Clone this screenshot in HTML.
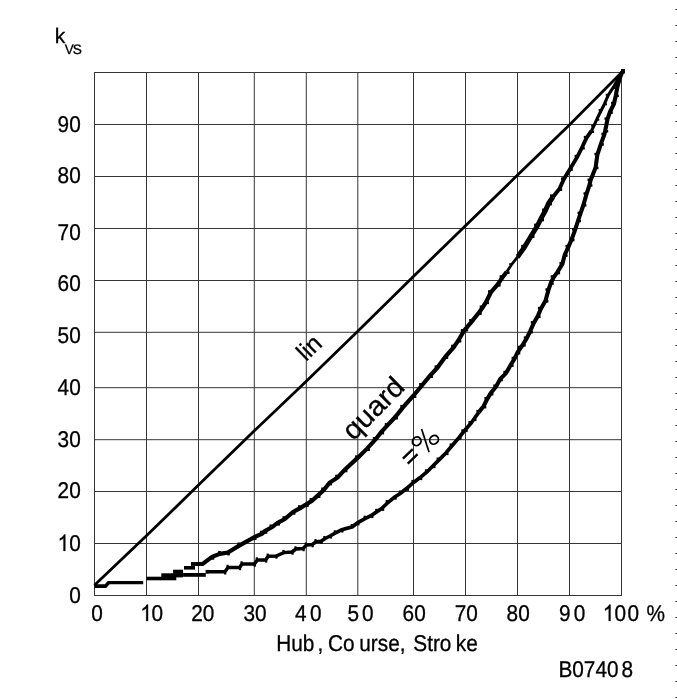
<!DOCTYPE html>
<html><head><meta charset="utf-8"><title>kvs</title>
<style>
html,body{margin:0;padding:0;background:#fff;}
body{width:677px;height:699px;overflow:hidden;position:relative;}
svg{position:absolute;left:0;top:0;display:block;filter:grayscale(1);}
text{text-rendering:geometricPrecision;font-family:"Liberation Sans",sans-serif;font-size:22.8px;fill:#000;stroke:#000;stroke-width:0.3px;}
.g line{stroke:#363636;stroke-width:1;}
.c{fill:none;stroke:#000;stroke-linejoin:miter;stroke-linecap:butt;}
</style></head><body>
<svg width="677" height="699" viewBox="0 0 677 699">
<rect width="677" height="699" fill="#fff"/>
<g class="g"><line x1="94.5" y1="72" x2="94.5" y2="596"/><line x1="146.5" y1="72" x2="146.5" y2="596"/><line x1="198.5" y1="72" x2="198.5" y2="596"/><line x1="254.3" y1="72" x2="254.3" y2="596"/><line x1="306.3" y1="72" x2="306.3" y2="596"/><line x1="357.8" y1="72" x2="357.8" y2="596"/><line x1="413.5" y1="72" x2="413.5" y2="596"/><line x1="465.5" y1="72" x2="465.5" y2="596"/><line x1="517.5" y1="72" x2="517.5" y2="596"/><line x1="569.5" y1="72" x2="569.5" y2="596"/><line x1="621.5" y1="72" x2="621.5" y2="596"/><line x1="94" y1="595.5" x2="622" y2="595.5"/><line x1="94" y1="543.5" x2="622" y2="543.5"/><line x1="94" y1="491.5" x2="622" y2="491.5"/><line x1="94" y1="439.7" x2="622" y2="439.7"/><line x1="94" y1="387.7" x2="622" y2="387.7"/><line x1="94" y1="332.3" x2="622" y2="332.3"/><line x1="94" y1="280.5" x2="622" y2="280.5"/><line x1="94" y1="228.5" x2="622" y2="228.5"/><line x1="94" y1="176.5" x2="622" y2="176.5"/><line x1="94" y1="124.5" x2="622" y2="124.5"/><line x1="94" y1="72.5" x2="622" y2="72.5"/></g>
<g fill="#333"><rect x="675.4" y="9" width="1.6" height="1"/><rect x="675.4" y="25" width="1.6" height="1"/><rect x="675.4" y="41" width="1.6" height="1"/><rect x="675.4" y="57" width="1.6" height="1"/><rect x="675.4" y="73" width="1.6" height="1"/><rect x="675.4" y="89" width="1.6" height="1"/><rect x="675.4" y="105" width="1.6" height="1"/><rect x="675.4" y="121" width="1.6" height="1"/><rect x="675.4" y="137" width="1.6" height="1"/><rect x="675.4" y="153" width="1.6" height="1"/><rect x="675.4" y="169" width="1.6" height="1"/><rect x="675.4" y="185" width="1.6" height="1"/><rect x="675.4" y="201" width="1.6" height="1"/><rect x="675.4" y="217" width="1.6" height="1"/><rect x="675.4" y="233" width="1.6" height="1"/><rect x="675.4" y="249" width="1.6" height="1"/><rect x="675.4" y="265" width="1.6" height="1"/><rect x="675.4" y="281" width="1.6" height="1"/><rect x="675.4" y="297" width="1.6" height="1"/><rect x="675.4" y="313" width="1.6" height="1"/><rect x="675.4" y="329" width="1.6" height="1"/><rect x="675.4" y="345" width="1.6" height="1"/><rect x="675.4" y="361" width="1.6" height="1"/><rect x="675.4" y="377" width="1.6" height="1"/><rect x="675.4" y="393" width="1.6" height="1"/><rect x="675.4" y="409" width="1.6" height="1"/><rect x="675.4" y="425" width="1.6" height="1"/><rect x="675.4" y="441" width="1.6" height="1"/><rect x="675.4" y="457" width="1.6" height="1"/><rect x="675.4" y="473" width="1.6" height="1"/><rect x="675.4" y="489" width="1.6" height="1"/><rect x="675.4" y="505" width="1.6" height="1"/><rect x="675.4" y="521" width="1.6" height="1"/><rect x="675.4" y="537" width="1.6" height="1"/><rect x="675.4" y="553" width="1.6" height="1"/><rect x="675.4" y="569" width="1.6" height="1"/><rect x="675.4" y="585" width="1.6" height="1"/><rect x="675.4" y="601" width="1.6" height="1"/><rect x="675.4" y="617" width="1.6" height="1"/><rect x="675.4" y="633" width="1.6" height="1"/><rect x="675.4" y="649" width="1.6" height="1"/><rect x="675.4" y="665" width="1.6" height="1"/><rect x="675.4" y="681" width="1.6" height="1"/><rect x="675.4" y="697" width="1.6" height="1"/></g>
<polyline class="c" stroke-width="2.8" points="94.4,585.2 146.7,535.6 198.5,485.1 254.6,430.5 306.3,381.2 358.0,331.0 413.4,276.4 465.7,225.5 518.1,174.6 569.6,124.8 622.8,71.2"/>
<g fill="#000"><rect x="146.5" y="576.7" width="29.8" height="3.6"/><rect x="161.3" y="573.3" width="21.8" height="4.1"/><rect x="173.1" y="569.7" width="10.0" height="4.2"/><rect x="183.1" y="573.0" width="22.7" height="3.8"/><rect x="205.6" y="569.9" width="3.4" height="3.5"/><rect x="184.0" y="566.0" width="11.0" height="3.6"/><rect x="191.0" y="562.1" width="7.0" height="3.8"/><polygon points="94.4,584.3 104.8,584.3 107.8,581.0 143.2,581.0 143.2,584.2 109.6,584.2 106.2,587.9 94.4,587.9"/><rect x="211.7" y="557.1" width="2.6" height="2.6"/><rect x="218.2" y="550.9" width="2.6" height="2.6"/><rect x="227.2" y="552.8" width="2.6" height="2.6"/><rect x="237.4" y="542.5" width="2.6" height="2.6"/><rect x="253.9" y="537.4" width="2.6" height="2.6"/><rect x="259.9" y="530.7" width="2.6" height="2.6"/><rect x="264.7" y="531.2" width="2.6" height="2.6"/><rect x="269.5" y="524.5" width="2.6" height="2.6"/><rect x="277.4" y="523.0" width="2.6" height="2.6"/><rect x="282.5" y="516.2" width="2.6" height="2.6"/><rect x="292.8" y="512.1" width="2.6" height="2.6"/><rect x="298.0" y="505.2" width="2.6" height="2.6"/><rect x="306.1" y="504.4" width="2.6" height="2.6"/><rect x="309.6" y="498.0" width="2.6" height="2.6"/><rect x="317.8" y="495.4" width="2.6" height="2.6"/><rect x="321.2" y="487.5" width="2.6" height="2.6"/><rect x="329.4" y="482.8" width="2.6" height="2.6"/><rect x="335.2" y="474.7" width="2.6" height="2.6"/><rect x="344.8" y="469.7" width="2.6" height="2.6"/><rect x="355.1" y="455.3" width="2.6" height="2.6"/><rect x="367.3" y="448.4" width="2.6" height="2.6"/><rect x="372.8" y="437.0" width="2.6" height="2.6"/><rect x="381.5" y="431.8" width="2.6" height="2.6"/><rect x="384.8" y="422.9" width="2.6" height="2.6"/><rect x="395.3" y="416.9" width="2.6" height="2.6"/><rect x="400.3" y="404.9" width="2.6" height="2.6"/><rect x="413.7" y="395.4" width="2.6" height="2.6"/><rect x="419.2" y="383.0" width="2.6" height="2.6"/><rect x="430.3" y="375.4" width="2.6" height="2.6"/><rect x="434.6" y="365.4" width="2.6" height="2.6"/><rect x="445.6" y="356.3" width="2.6" height="2.6"/><rect x="451.1" y="344.7" width="2.6" height="2.6"/><rect x="458.7" y="339.9" width="2.6" height="2.6"/><rect x="460.8" y="329.1" width="2.6" height="2.6"/><rect x="465.5" y="328.9" width="2.6" height="2.6"/><rect x="469.2" y="319.0" width="2.6" height="2.6"/><rect x="479.1" y="312.3" width="2.6" height="2.6"/><rect x="479.7" y="305.5" width="2.6" height="2.6"/><rect x="486.4" y="301.5" width="2.6" height="2.6"/><rect x="488.0" y="290.2" width="2.6" height="2.6"/><rect x="498.0" y="284.0" width="2.6" height="2.6"/><rect x="499.6" y="275.2" width="2.6" height="2.6"/><rect x="507.0" y="271.4" width="2.6" height="2.6"/><rect x="509.2" y="263.2" width="1.7" height="1.7"/><rect x="518.2" y="256.7" width="1.7" height="1.7"/><rect x="521.2" y="244.8" width="2.8" height="2.8"/><rect x="531.7" y="235.2" width="2.8" height="2.8"/><rect x="534.1" y="223.6" width="2.8" height="2.8"/><rect x="541.2" y="218.5" width="2.8" height="2.8"/><rect x="542.1" y="208.5" width="2.8" height="2.8"/><rect x="549.1" y="202.6" width="2.8" height="2.8"/><rect x="550.0" y="194.4" width="2.8" height="2.8"/><rect x="559.8" y="188.5" width="2.4" height="2.4"/><rect x="561.0" y="177.4" width="2.4" height="2.4"/><rect x="570.5" y="168.4" width="2.4" height="2.4"/><rect x="574.6" y="154.8" width="2.4" height="2.4"/><rect x="582.4" y="147.1" width="2.4" height="2.4"/><rect x="583.8" y="135.9" width="2.4" height="2.4"/><rect x="591.7" y="130.6" width="2.4" height="2.4"/><rect x="591.2" y="124.9" width="1.9" height="1.9"/><rect x="597.4" y="118.8" width="1.9" height="1.9"/><rect x="598.6" y="109.1" width="1.9" height="1.9"/><rect x="605.1" y="103.4" width="1.9" height="1.9"/><rect x="605.7" y="93.8" width="1.9" height="1.9"/><rect x="613.8" y="87.1" width="1.9" height="1.9"/><rect x="224.1" y="572.3" width="2.2" height="2.2"/><rect x="226.5" y="564.8" width="2.2" height="2.2"/><rect x="238.9" y="568.0" width="2.2" height="2.2"/><rect x="240.5" y="561.3" width="2.2" height="2.2"/><rect x="253.7" y="564.5" width="2.2" height="2.2"/><rect x="255.7" y="557.3" width="2.2" height="2.2"/><rect x="265.1" y="560.4" width="2.2" height="2.2"/><rect x="266.6" y="553.6" width="2.2" height="2.2"/><rect x="275.3" y="556.5" width="2.2" height="2.2"/><rect x="282.4" y="549.9" width="2.2" height="2.2"/><rect x="291.4" y="552.5" width="2.2" height="2.2"/><rect x="294.4" y="546.3" width="2.2" height="2.2"/><rect x="302.5" y="549.0" width="2.2" height="2.2"/><rect x="304.7" y="542.5" width="2.2" height="2.2"/><rect x="311.5" y="545.1" width="2.2" height="2.2"/><rect x="314.4" y="539.1" width="2.2" height="2.2"/><rect x="320.5" y="541.8" width="2.2" height="2.2"/><rect x="323.3" y="536.0" width="2.2" height="2.2"/><rect x="329.7" y="536.4" width="2.2" height="2.2"/><rect x="333.7" y="530.3" width="2.2" height="2.2"/><rect x="341.2" y="530.2" width="2.3" height="2.3"/><rect x="350.7" y="524.0" width="2.3" height="2.3"/><rect x="357.2" y="523.1" width="2.3" height="2.3"/><rect x="363.6" y="515.7" width="2.3" height="2.3"/><rect x="371.1" y="515.8" width="2.3" height="2.3"/><rect x="375.2" y="508.8" width="2.3" height="2.3"/><rect x="381.9" y="508.6" width="2.3" height="2.3"/><rect x="385.6" y="500.1" width="2.3" height="2.3"/><rect x="394.3" y="497.4" width="2.3" height="2.3"/><rect x="398.8" y="490.5" width="2.3" height="2.3"/><rect x="406.7" y="488.5" width="2.3" height="2.3"/><rect x="411.4" y="479.9" width="2.3" height="2.3"/><rect x="420.0" y="477.8" width="2.3" height="2.3"/><rect x="424.9" y="469.3" width="2.3" height="2.3"/><rect x="433.2" y="465.9" width="2.3" height="2.3"/><rect x="436.6" y="457.5" width="2.3" height="2.3"/><rect x="446.2" y="452.8" width="2.3" height="2.3"/><rect x="449.6" y="443.5" width="2.3" height="2.3"/><rect x="459.3" y="437.4" width="2.3" height="2.3"/><rect x="461.3" y="429.3" width="2.3" height="2.3"/><rect x="465.4" y="429.8" width="2.3" height="2.3"/><rect x="468.4" y="421.1" width="2.3" height="2.3"/><rect x="474.2" y="418.8" width="2.3" height="2.3"/><rect x="476.4" y="409.9" width="2.3" height="2.3"/><rect x="483.8" y="405.9" width="2.5" height="2.5"/><rect x="484.4" y="397.0" width="2.5" height="2.5"/><rect x="490.9" y="393.0" width="2.5" height="2.5"/><rect x="493.3" y="384.4" width="2.5" height="2.5"/><rect x="500.4" y="378.8" width="2.5" height="2.5"/><rect x="503.4" y="370.8" width="2.5" height="2.5"/><rect x="511.1" y="364.4" width="2.5" height="2.5"/><rect x="511.6" y="356.8" width="2.5" height="2.5"/><rect x="517.8" y="352.0" width="2.5" height="2.5"/><rect x="517.8" y="345.7" width="2.5" height="2.5"/><rect x="523.2" y="344.1" width="2.5" height="2.5"/><rect x="523.8" y="336.4" width="2.5" height="2.5"/><rect x="530.4" y="330.9" width="2.5" height="2.5"/><rect x="530.8" y="321.1" width="2.5" height="2.5"/><rect x="538.1" y="315.6" width="2.5" height="2.5"/><rect x="537.9" y="306.9" width="2.5" height="2.5"/><rect x="545.9" y="300.1" width="2.5" height="2.5"/><rect x="545.4" y="288.3" width="2.5" height="2.5"/><rect x="551.2" y="282.4" width="2.5" height="2.5"/><rect x="550.7" y="275.3" width="2.5" height="2.5"/><rect x="557.6" y="271.8" width="2.5" height="2.5"/><rect x="559.5" y="261.9" width="2.5" height="2.5"/><rect x="565.1" y="254.3" width="2.5" height="2.5"/><rect x="565.5" y="244.8" width="2.5" height="2.5"/><rect x="572.0" y="238.8" width="2.5" height="2.5"/><rect x="572.1" y="228.1" width="2.5" height="2.5"/><rect x="578.5" y="219.8" width="2.5" height="2.5"/><rect x="577.5" y="211.6" width="2.5" height="2.5"/><rect x="583.9" y="204.1" width="2.5" height="2.5"/><rect x="583.5" y="192.2" width="2.5" height="2.5"/><rect x="589.9" y="184.2" width="2.5" height="2.5"/><rect x="587.5" y="178.6" width="2.5" height="2.5"/><rect x="596.0" y="166.7" width="2.5" height="2.5"/><rect x="594.4" y="152.8" width="2.5" height="2.5"/><rect x="601.3" y="143.2" width="2.5" height="2.5"/><rect x="601.4" y="132.7" width="2.5" height="2.5"/><rect x="605.7" y="130.0" width="2.5" height="2.5"/><rect x="604.5" y="117.4" width="2.5" height="2.5"/><rect x="610.3" y="111.4" width="2.5" height="2.5"/><rect x="611.1" y="101.8" width="2.5" height="2.5"/><rect x="616.3" y="94.6" width="2.5" height="2.5"/><rect x="614.6" y="84.3" width="2.5" height="2.5"/></g>
<polyline class="c" stroke-width="4.2" points="196.0,564.0 202.6,563.9 212.1,556.8 220.0,553.9 227.8,552.5 239.6,545.4 254.4,537.1 262.1,533.6 265.0,531.0 271.8,527.3 277.7,522.8 284.8,519.0 293.1,511.9 300.2,508.1 306.4,504.2 312.0,500.7 317.9,495.4 323.8,490.0 329.5,482.8 337.7,477.4 344.8,469.7 357.6,457.9 367.3,448.4 375.5,439.5 381.4,431.9 387.4,425.4 395.2,417.0 403.0,407.4 413.6,395.5 421.9,385.5 430.2,375.5 437.3,367.8 445.5,356.5 453.8,347.1 458.5,340.2 463.6,331.4 465.4,329.1 471.9,321.4 479.0,312.5 482.5,307.8 486.1,301.9 490.8,292.5 497.9,284.2 502.4,277.5 506.8,271.7"/>
<polyline class="c" stroke-width="2.8" points="506.8,271.7 511.3,265.0 517.8,256.7"/>
<polyline class="c" stroke-width="4.9" points="517.8,256.7 524.3,247.3 531.4,235.5 537.3,226.0 540.8,218.9 545.3,210.8 548.7,203.0 553.0,197.0"/>
<polyline class="c" stroke-width="3.9" points="553.0,197.0 559.5,188.8 563.7,179.4 570.2,168.7 577.3,156.9 582.0,147.5 586.5,138.0 591.4,130.9"/>
<polyline class="c" stroke-width="3.1" points="591.4,130.9 593.6,126.5 596.9,119.1 601.0,110.8 604.6,103.7 608.1,95.5 613.4,87.2 618.2,78.9 622.3,71.8"/>
<polyline class="c" stroke-width="3.5" points="206.0,571.7 224.9,571.7 228.0,567.5 239.6,567.5 242.0,564.0 254.4,564.0 257.4,559.9 265.6,559.9 268.3,556.2 276.0,556.0 283.9,552.6 292.0,552.0 296.0,549.0 303.0,548.5 306.4,545.1 312.0,544.6 316.1,541.7 321.0,541.3 325.2,538.5 330.0,536.0 335.6,532.9"/>
<polyline class="c" stroke-width="3.7" points="335.6,532.9 341.8,529.7 352.5,526.7 357.4,522.8 365.5,518.4 371.4,515.5 377.3,511.4 382.0,508.4 387.9,502.5 394.4,497.2 400.9,493.0 406.8,488.3 413.6,482.4 420.1,477.6 427.2,471.7 433.1,465.8 439.0,459.9 446.1,452.8 452.0,445.7 459.1,437.5 463.8,431.5 465.3,429.8 470.9,423.3 474.0,419.0 478.9,412.1"/>
<polyline class="c" stroke-width="4.1" points="478.9,412.1 483.6,406.2 487.2,399.1 490.7,393.2 496.0,386.7 500.2,379.0 506.1,373.1 510.8,364.8 514.4,358.9 517.5,352.4 520.5,348.0 523.0,344.4 526.6,338.5 530.1,331.4 533.7,323.2 537.8,316.1 540.8,309.0 545.5,300.7 548.4,290.1 550.8,283.0 553.5,277.5 557.4,272.1 562.4,263.9 564.7,255.0 568.4,246.8 571.6,239.4 575.1,229.9 578.1,220.5 580.5,213.4 583.5,204.8 586.5,194.0 589.5,185.0 590.5,180.5 595.6,167.5 597.4,154.5 600.9,143.9 604.4,134.5 605.2,130.9 607.5,119.1 609.9,112.0 614.0,103.7 615.8,95.5 617.6,86.0 620.0,77.7 622.3,71.8"/>
<rect x="621" y="69" width="4" height="4.5" fill="#000"/>
<g><text transform="translate(80.7,131.7) scale(0.912,1)" text-anchor="end">90</text>
<text transform="translate(80.7,183.4) scale(0.912,1)" text-anchor="end">80</text>
<text transform="translate(80.7,239.5) scale(0.912,1)" text-anchor="end">70</text>
<text transform="translate(80.7,291.3) scale(0.912,1)" text-anchor="end">60</text>
<text transform="translate(80.7,343.0) scale(0.912,1)" text-anchor="end">50</text>
<text transform="translate(80.7,394.8) scale(0.912,1)" text-anchor="end">40</text>
<text transform="translate(80.7,446.9) scale(0.912,1)" text-anchor="end">30</text>
<text transform="translate(80.7,498.4) scale(0.912,1)" text-anchor="end">20</text>
<text transform="translate(80.7,550.9) scale(0.912,1)" text-anchor="end">0</text>
<path d="M763 0H583V1147Q518 1085 412.5 1023Q307 961 223 930V1104Q374 1175 487 1276Q600 1377 647 1472H763Z" transform="translate(57.58,550.90) scale(0.01015,-0.01113)" fill="#000" stroke="#000" stroke-width="28"/>
<text transform="translate(80.7,602.7) scale(0.912,1)" text-anchor="end">0</text>
<text transform="translate(91.2,621.0) scale(0.912,1)">0</text>
<path d="M763 0H583V1147Q518 1085 412.5 1023Q307 961 223 930V1104Q374 1175 487 1276Q600 1377 647 1472H763Z" transform="translate(140.30,621.00) scale(0.01015,-0.01113)" fill="#000" stroke="#000" stroke-width="28"/>
<text transform="translate(151.5,621.0) scale(0.912,1)">0</text>
<text transform="translate(191.2,621.0) scale(0.912,1)">20</text>
<text transform="translate(243.4,621.0) scale(0.912,1)">30</text>
<text transform="translate(295.0,621.0) scale(0.912,1)">4</text>
<text transform="translate(310.0,621.0) scale(0.912,1)">0</text>
<text transform="translate(347.4,621.0) scale(0.912,1)">5</text>
<text transform="translate(362.0,621.0) scale(0.912,1)">0</text>
<text transform="translate(402.6,621.0) scale(0.912,1)">60</text>
<text transform="translate(454.8,621.0) scale(0.912,1)">70</text>
<text transform="translate(506.6,621.0) scale(0.912,1)">80</text>
<text transform="translate(559.0,621.0) scale(0.912,1)">9</text>
<text transform="translate(573.8,621.0) scale(0.912,1)">0</text>
<path d="M763 0H583V1147Q518 1085 412.5 1023Q307 961 223 930V1104Q374 1175 487 1276Q600 1377 647 1472H763Z" transform="translate(602.80,621.00) scale(0.01015,-0.01113)" fill="#000" stroke="#000" stroke-width="28"/>
<text transform="translate(614.4,621.0) scale(0.912,1)">0</text>
<text transform="translate(627.4,621.0) scale(0.912,1)">0</text>
<text transform="translate(646.6,621.0) scale(0.912,1)">%</text>
<text transform="translate(54.8,42.5) scale(1.0,1)" style="font-size:21px">k</text>
<text transform="translate(64.7,53.6) scale(0.98,1)" style="font-size:13.7px">V</text>
<text transform="translate(72.8,53.6) scale(1.0,1)" style="font-size:13.7px">S</text>
<text transform="translate(276.2,650.7) scale(0.912,1)">Hub</text>
<text transform="translate(317.4,650.7) scale(0.912,1)">,</text>
<text transform="translate(327.9,650.7) scale(0.912,1)">Co</text>
<text transform="translate(359.3,650.7) scale(0.912,1)">urse,</text>
<text transform="translate(413.3,650.7) scale(0.912,1)">Stro</text>
<text transform="translate(455.8,650.7) scale(0.912,1)">ke</text>
<text transform="translate(558.4,677.2) scale(0.912,1)">B0740</text>
<text transform="translate(621.4,677.2) scale(0.912,1)">8</text>
<text transform="translate(306.1,361.9) rotate(-44) scale(1,1)" style="font-size:24.3px">lin</text>
<text transform="translate(353.4,441.4) rotate(-45) scale(1.045,1)" style="font-size:28px">quard</text>
<text transform="translate(410.8,468.5) rotate(-44) scale(1,1)" style="font-size:27.7px">=</text></g>
<g fill="none" stroke="#000"><ellipse cx="416.7" cy="441.3" rx="4.5" ry="4.1" transform="rotate(-45 416.7 441.3)" stroke-width="1.8"/><ellipse cx="434.1" cy="439.8" rx="4.6" ry="4.1" transform="rotate(-45 434.1 439.8)" stroke-width="1.8"/><line x1="421.6" y1="428.9" x2="429.1" y2="452.3" stroke-width="1.7"/></g>
</svg>
</body></html>
